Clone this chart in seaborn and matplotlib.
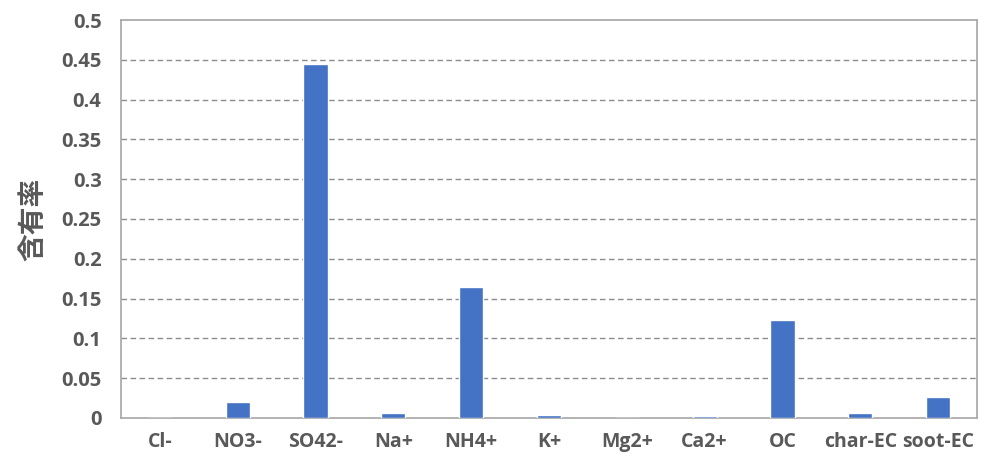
import matplotlib
matplotlib.use("Agg")
import matplotlib.pyplot as plt
import seaborn as sns
import pandas as pd

categories = ["Cl-", "NO3-", "SO42-", "Na+", "NH4+", "K+", "Mg2+", "Ca2+", "OC", "char-EC", "soot-EC"]
values = [0.0, 0.020, 0.445, 0.006, 0.165, 0.004, 0.0, 0.003, 0.1235, 0.006, 0.027]
y_ticks = [0, 0.05, 0.1, 0.15, 0.2, 0.25, 0.3, 0.35, 0.4, 0.45, 0.5]
y_tick_labels = ["0", "0.05", "0.1", "0.15", "0.2", "0.25", "0.3", "0.35", "0.4", "0.45", "0.5"]
y_label = "含有率"

df = pd.DataFrame({"component": categories, "rate": values})

sns.set_theme(style="white")
plt.rcParams["font.family"] = ["Open Sans", "Noto Sans CJK JP", "DejaVu Sans"]

fig = plt.figure(figsize=(9.87, 4.63), dpi=100)
ax = fig.add_axes([0.1226, 0.0972, 0.8673, 0.8596])

sns.barplot(data=df, x="component", y="rate", color="#4472C4", saturation=1,
            width=0.31, ax=ax, zorder=3)

ax.set_ylim(0, 0.5)
ax.set_xlim(-0.5, len(categories) - 0.5)
ax.set_yticks(y_ticks)
ax.set_yticklabels(y_tick_labels)

for y in y_ticks[1:-1]:
    ax.axhline(y, color="#8c8c8c", linestyle=(0, (4, 2.5)), linewidth=1.0, zorder=1)

for side in ["left", "right", "top", "bottom"]:
    ax.spines[side].set_visible(True)
    ax.spines[side].set_color("#a6a6a6")
    ax.spines[side].set_linewidth(1.2)

text_color = "#595959"
ax.tick_params(axis="both", length=0, labelsize=14, labelcolor=text_color)
ax.tick_params(axis="y", pad=14, labelsize=14.5)
ax.tick_params(axis="x", pad=10)
for lbl in ax.get_xticklabels() + ax.get_yticklabels():
    lbl.set_fontweight("bold")

ax.set_xlabel("")
ax.set_ylabel(y_label, fontsize=20, color=text_color, labelpad=10, fontweight="bold",
              family=["Noto Sans CJK JP", "DejaVu Sans"])

fig.savefig("out.png", dpi=100)
